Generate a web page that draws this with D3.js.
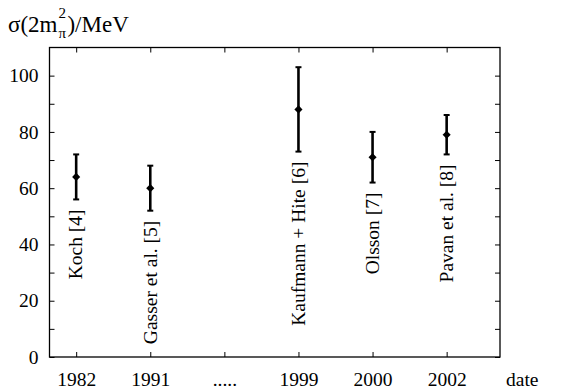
<!DOCTYPE html>
<html>
<head>
<meta charset="utf-8">
<script src="https://cdn.jsdelivr.net/npm/d3@7"></script>
</head>
<body style="margin:0; background:#fff">
<div id="chart"></div>
<script>
// categories along the x axis (the "....." slot has no data)
const dateLabels = ["1982", "1991", ".....", "1999", "2000", "2002"]
const sources = ["Koch [4]", "Gasser et al. [5]", "Kaufmann + Hite [6]", "Olsson [7]", "Pavan et al. [8]"]
const sourceSlot = [0, 1, 3, 4, 5]
const sigma = [64, 60, 88, 71, 79]
const sigmaErr = [8, 8, 15, 9, 7]
const yTicks = [0, 10, 20, 30, 40, 50, 60, 70, 80, 90, 100]

const width = 571
const height = 391
const margin = { top: 47.5, right: 71, bottom: 34, left: 49.5 }
const boundedWidth = width - margin.left - margin.right
const boundedHeight = height - margin.top - margin.bottom
const serif = "Liberation Serif"
const fontSize = 19.5
const tickLen = 5

const svg = d3.select("#chart")
  .append("svg")
    .attr("width", width)
    .attr("height", height)
    .style("display", "block")

const g = svg.append("g")
  .attr("transform", `translate(${margin.left},${margin.top})`)

const xScale = d3.scaleLinear()
  .domain([-0.36, 5.72])
  .range([0, boundedWidth])

const yScale = d3.scaleLinear()
  .domain([0, 110])
  .range([boundedHeight, 0])

// frame
g.append("rect")
  .attr("width", boundedWidth)
  .attr("height", boundedHeight)
  .attr("fill", "none")
  .attr("stroke", "#000")
  .attr("stroke-width", 1.3)

const styleAxis = s => {
  s.select(".domain").remove()
  s.selectAll("text")
    .style("font-family", serif)
    .style("font-size", fontSize + "px")
    .attr("fill", "#000")
  s.selectAll(".tick line").attr("stroke-width", 1)
}

// y ticks, left and mirrored right
g.append("g")
  .call(d3.axisLeft(yScale)
    .tickValues(yTicks)
    .tickSize(-tickLen)
    .tickPadding(11)
    .tickFormat(d => d % 20 === 0 ? d : ""))
  .call(styleAxis)

g.append("g")
  .attr("transform", `translate(${boundedWidth},0)`)
  .call(d3.axisRight(yScale).tickValues(yTicks).tickSize(-tickLen).tickFormat(""))
  .call(styleAxis)

// x ticks, bottom and mirrored top
const slots = d3.range(dateLabels.length)
g.append("g")
  .attr("transform", `translate(0,${boundedHeight})`)
  .call(d3.axisBottom(xScale).tickValues(slots).tickSize(-tickLen).tickPadding(15)
    .tickFormat(i => dateLabels[i]))
  .call(styleAxis)

g.append("g")
  .call(d3.axisTop(xScale).tickValues(slots).tickSize(-tickLen).tickFormat(""))
  .call(styleAxis)

// "date" axis name
g.append("text")
  .attr("x", boundedWidth + 6)
  .attr("y", boundedHeight + 29)
  .style("font-family", serif)
  .style("font-size", fontSize + "px")
  .text("date")

// error bars
const points = sources.map((name, i) => ({
  name,
  slot: sourceSlot[i],
  value: sigma[i],
  err: sigmaErr[i]
}))

const bars = g.append("g")
  .selectAll("g")
  .data(points)
  .join("g")

bars.append("line")
  .attr("x1", d => xScale(d.slot))
  .attr("x2", d => xScale(d.slot))
  .attr("y1", d => yScale(d.value - d.err))
  .attr("y2", d => yScale(d.value + d.err))
  .attr("stroke", "#000")
  .attr("stroke-width", 2.6)

bars.selectAll(".cap")
  .data(d => [d.value - d.err, d.value + d.err].map(v => ({ slot: d.slot, v })))
  .join("line")
    .attr("class", "cap")
    .attr("x1", d => xScale(d.slot) - 3)
    .attr("x2", d => xScale(d.slot) + 3)
    .attr("y1", d => yScale(d.v))
    .attr("y2", d => yScale(d.v))
    .attr("stroke", "#000")
    .attr("stroke-width", 2)

bars.append("path")
  .attr("d", d3.symbol(d3.symbolDiamond2, 42))
  .attr("transform", d => `translate(${xScale(d.slot)},${yScale(d.value)})`)
  .attr("fill", "#000")

// source labels, rotated, below each bar
bars.append("text")
  .attr("transform", d => `translate(${xScale(d.slot)},${yScale(d.value - d.err) + 10}) rotate(-90)`)
  .attr("text-anchor", "end")
  .attr("dy", "0.32em")
  .style("font-family", serif)
  .style("font-size", fontSize + "px")
  .text(d => d.name)

// y axis title  σ(2m_π^2)/MeV
const title = svg.append("g")
  .attr("transform", "translate(8,32)")
  .style("font-family", serif)
const t1 = title.append("text").style("font-size", "23px").text("σ(2m")
const w1 = t1.node().getComputedTextLength()
title.append("text").attr("x", w1 + 1).attr("y", -14).style("font-size", "15px").text("2")
title.append("text").attr("x", w1 + 1).attr("y", 6).style("font-size", "15px").text("π")
title.append("text").attr("x", w1 + 10).style("font-size", "23px").text(")/MeV")
</script>
</body>
</html>
